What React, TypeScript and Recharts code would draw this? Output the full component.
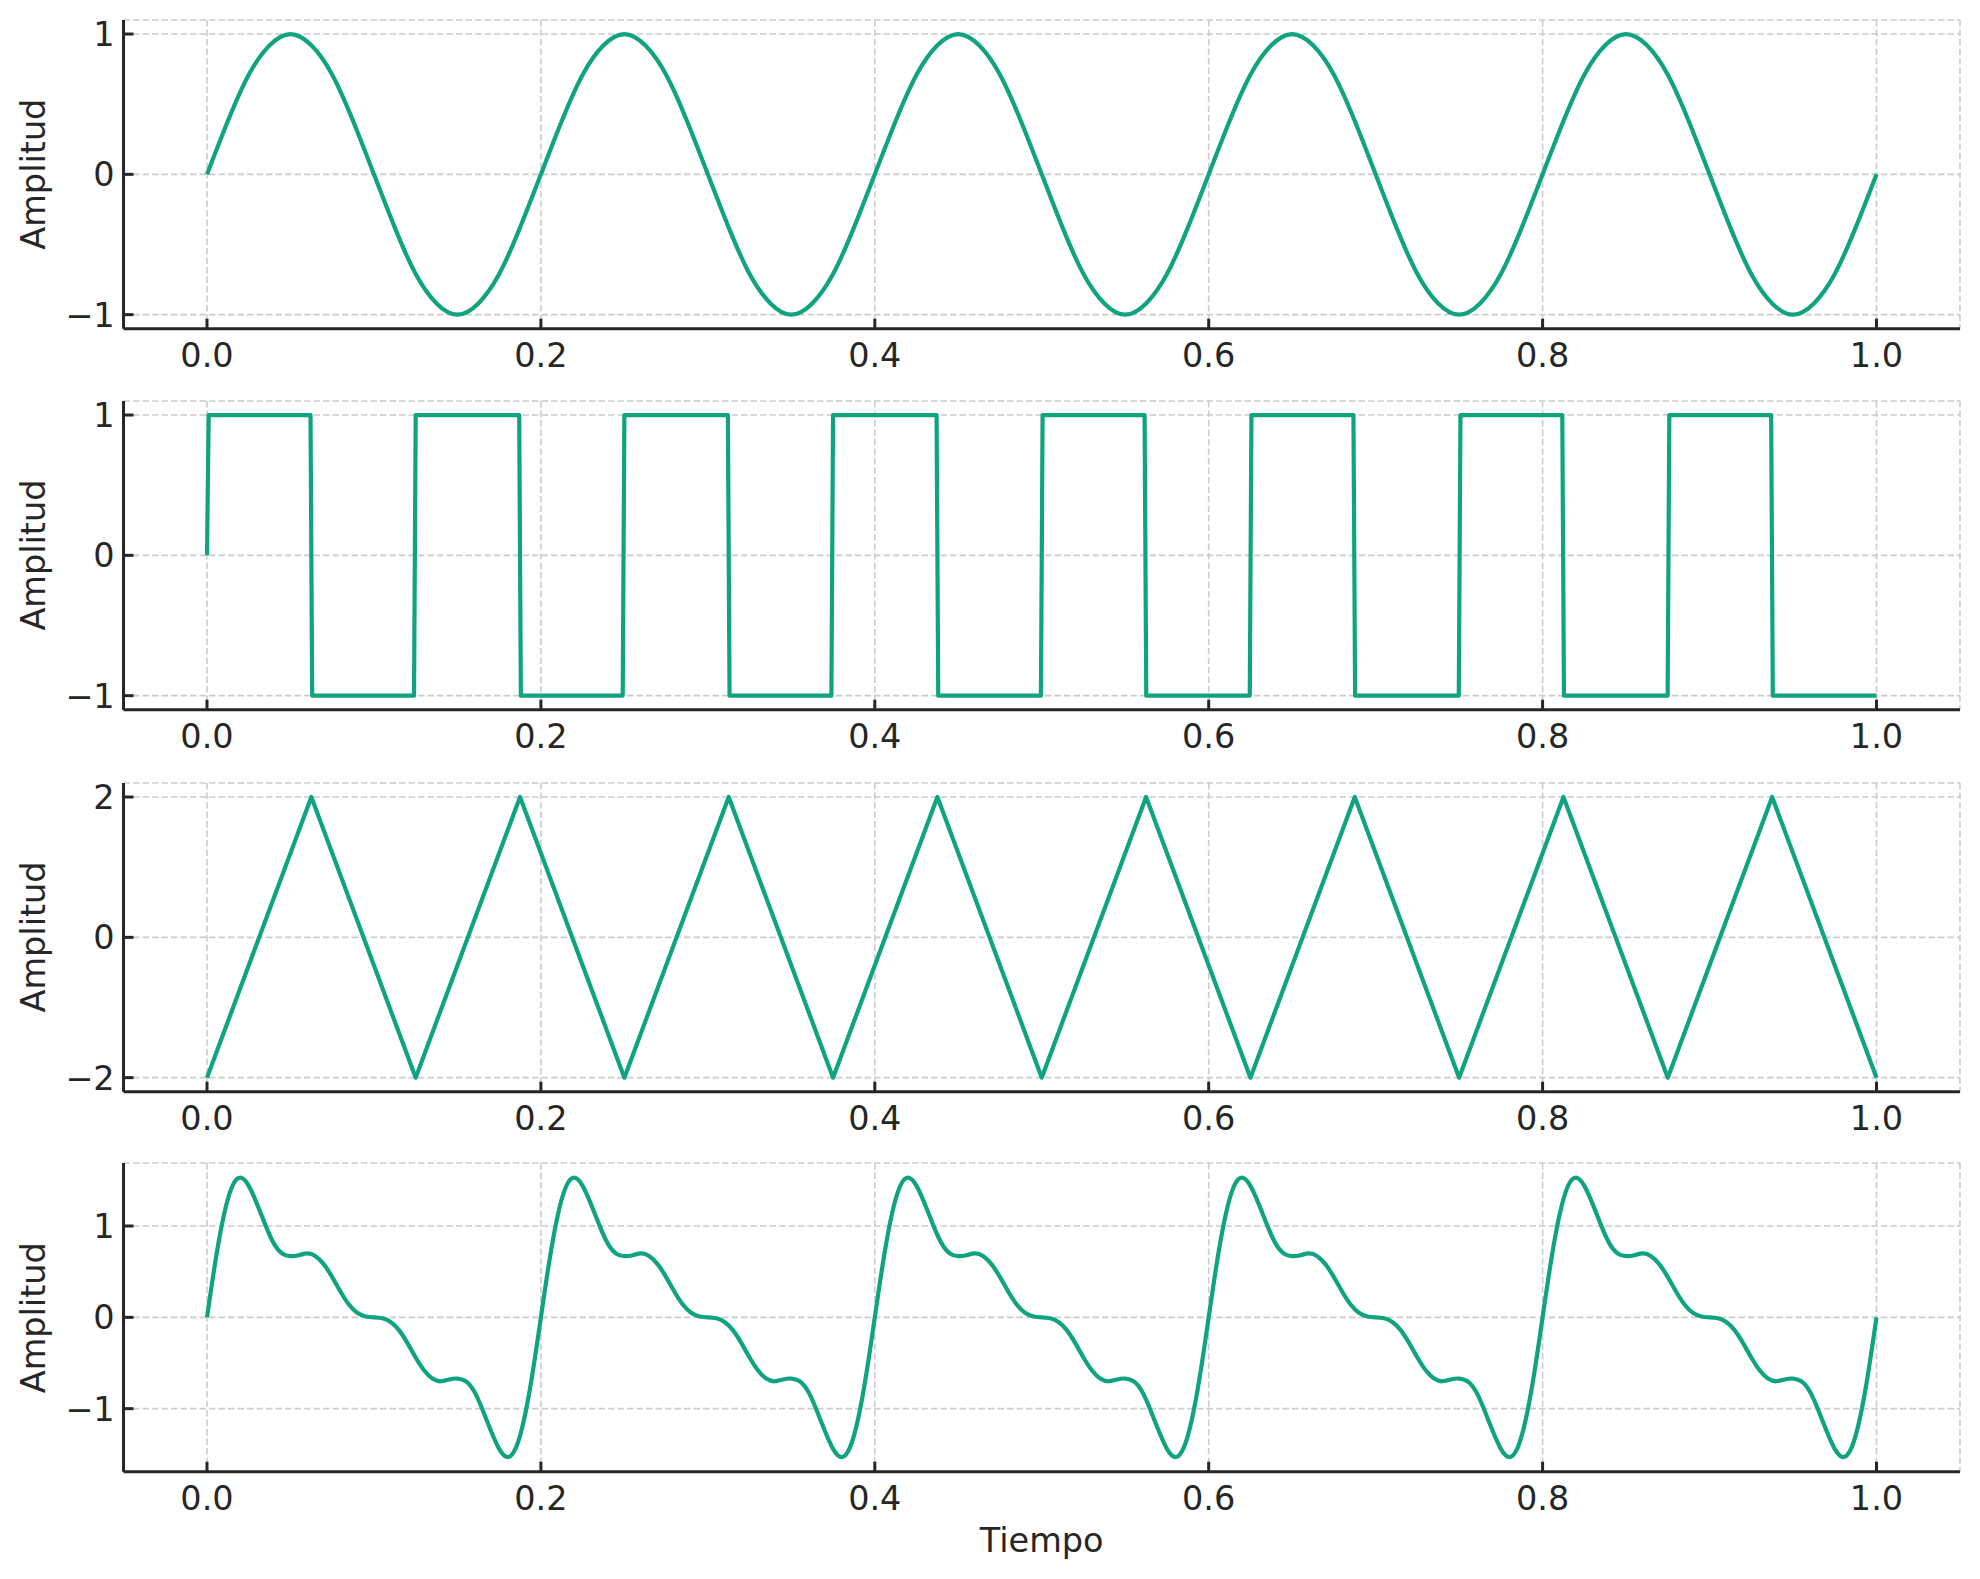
import React from 'react';
import { LineChart, Line, XAxis, YAxis, CartesianGrid } from 'recharts';

// eje de tiempo compartido
const timeTicks = [0, 0.2, 0.4, 0.6, 0.8, 1.0];

// señal senoidal (muestreo cada 0.0125 s)
const SINE_STEP = 0.0125;
const sineAmp = [
  0, 0.38, 0.71, 0.92, 1, 0.92, 0.71, 0.38, 0, -0.38, -0.71, -0.92, -1, -0.92, -0.71, -0.38,
  0, 0.38, 0.71, 0.92, 1, 0.92, 0.71, 0.38, 0, -0.38, -0.71, -0.92, -1, -0.92, -0.71, -0.38,
  0, 0.38, 0.71, 0.92, 1, 0.92, 0.71, 0.38, 0, -0.38, -0.71, -0.92, -1, -0.92, -0.71, -0.38,
  0, 0.38, 0.71, 0.92, 1, 0.92, 0.71, 0.38, 0, -0.38, -0.71, -0.92, -1, -0.92, -0.71, -0.38,
  0, 0.38, 0.71, 0.92, 1, 0.92, 0.71, 0.38, 0, -0.38, -0.71, -0.92, -1, -0.92, -0.71, -0.38,
  0,
];

// onda cuadrada: puntos de quiebre
const squareTime = [
  0, 0.001, 0.062, 0.063, 0.124, 0.125, 0.187, 0.188, 0.249, 0.25, 0.312, 0.313,
  0.374, 0.375, 0.437, 0.438, 0.4995, 0.5005, 0.5616, 0.5626, 0.6246, 0.6256,
  0.6867, 0.6877, 0.7498, 0.7508, 0.8118, 0.8128, 0.8749, 0.8759, 0.9369, 0.9379, 1.0,
];
const squareAmp = [
  0, 1, 1, -1, -1, 1, 1, -1, -1, 1, 1, -1, -1, 1, 1, -1, -1, 1, 1, -1, -1, 1, 1, -1,
  -1, 1, 1, -1, -1, 1, 1, -1, -1,
];

// onda triangular: vértices
const triTime = [
  0, 0.0625, 0.125, 0.1875, 0.25, 0.3125, 0.375, 0.4375, 0.5, 0.5625, 0.625, 0.6875,
  0.75, 0.8125, 0.875, 0.9375, 1.0,
];
const triAmp = [-2, 2, -2, 2, -2, 2, -2, 2, -2, 2, -2, 2, -2, 2, -2, 2, -2];

// diente de sierra (4 armónicos), muestreo cada 0.005 s
const SAW_STEP = 0.005;
const sawAmp = [
  0, 0.61, 1.11, 1.43, 1.53, 1.44, 1.24, 1.01, 0.81, 0.7, 0.67, 0.68, 0.7, 0.67, 0.58, 0.44, 0.28, 0.14, 0.05, 0.01,
  0, -0.01, -0.05, -0.14, -0.28, -0.44, -0.58, -0.67, -0.7, -0.68, -0.67, -0.7, -0.81, -1.01, -1.24, -1.44, -1.53, -1.43, -1.11, -0.61,
  0, 0.61, 1.11, 1.43, 1.53, 1.44, 1.24, 1.01, 0.81, 0.7, 0.67, 0.68, 0.7, 0.67, 0.58, 0.44, 0.28, 0.14, 0.05, 0.01,
  0, -0.01, -0.05, -0.14, -0.28, -0.44, -0.58, -0.67, -0.7, -0.68, -0.67, -0.7, -0.81, -1.01, -1.24, -1.44, -1.53, -1.43, -1.11, -0.61,
  0, 0.61, 1.11, 1.43, 1.53, 1.44, 1.24, 1.01, 0.81, 0.7, 0.67, 0.68, 0.7, 0.67, 0.58, 0.44, 0.28, 0.14, 0.05, 0.01,
  0, -0.01, -0.05, -0.14, -0.28, -0.44, -0.58, -0.67, -0.7, -0.68, -0.67, -0.7, -0.81, -1.01, -1.24, -1.44, -1.53, -1.43, -1.11, -0.61,
  0, 0.61, 1.11, 1.43, 1.53, 1.44, 1.24, 1.01, 0.81, 0.7, 0.67, 0.68, 0.7, 0.67, 0.58, 0.44, 0.28, 0.14, 0.05, 0.01,
  0, -0.01, -0.05, -0.14, -0.28, -0.44, -0.58, -0.67, -0.7, -0.68, -0.67, -0.7, -0.81, -1.01, -1.24, -1.44, -1.53, -1.43, -1.11, -0.61,
  0, 0.61, 1.11, 1.43, 1.53, 1.44, 1.24, 1.01, 0.81, 0.7, 0.67, 0.68, 0.7, 0.67, 0.58, 0.44, 0.28, 0.14, 0.05, 0.01,
  0, -0.01, -0.05, -0.14, -0.28, -0.44, -0.58, -0.67, -0.7, -0.68, -0.67, -0.7, -0.81, -1.01, -1.24, -1.44, -1.53, -1.43, -1.11, -0.61,
  0,
];

const COLOR = '#10a37f';
const INK = '#262626';
const FONT = '"DejaVu Sans", sans-serif';
const FS = 33.5;

const W = 1980;
const PLOT_H = 308.7;
const M = { top: 10, right: 20, bottom: 0, left: 23.5 };
const X_AXIS_H = 60;

const fmtY = (v: number) => (v < 0 ? `\u2212${Math.abs(v)}` : `${v}`);
const fmtX = (v: number) => v.toFixed(1);

const rowsFromGrid = (step: number, ys: number[]) => ys.map((y, i) => ({ t: i * step, y }));
const rowsFromPairs = (ts: number[], ys: number[]) => ys.map((y, i) => ({ t: ts[i], y }));

const panels = [
  { top: 19.8, data: rowsFromGrid(SINE_STEP, sineAmp), domain: [-1.1, 1.1], ticks: [-1, 0, 1], curve: 'natural' },
  { top: 400.7, data: rowsFromPairs(squareTime, squareAmp), domain: [-1.1, 1.1], ticks: [-1, 0, 1], curve: 'linear' },
  { top: 782.6, data: rowsFromPairs(triTime, triAmp), domain: [-2.2, 2.2], ticks: [-2, 0, 2], curve: 'linear' },
  { top: 1163.4, data: rowsFromGrid(SAW_STEP, sawAmp), domain: [-1.69, 1.69], ticks: [-1, 0, 1], curve: 'natural' },
];

function Panel({ p }: { p: any }) {
  const tickStyle = { fill: INK, fontSize: FS, fontFamily: FONT };
  const lineStyle = { stroke: INK, strokeWidth: 3 };
  return (
    <div style={{ position: 'absolute', left: 0, top: p.top - M.top }}>
      <LineChart width={W} height={M.top + PLOT_H + X_AXIS_H} data={p.data} margin={M}>
        <CartesianGrid stroke="#cccccc" strokeWidth={1.6} strokeDasharray="6.5 3" />
        <XAxis
          dataKey="t"
          type="number"
          domain={[-0.05, 1.05]}
          ticks={timeTicks}
          tickFormatter={fmtX}
          interval={0}
          allowDataOverflow
          height={X_AXIS_H}
          tick={tickStyle}
          axisLine={lineStyle}
          tickLine={lineStyle}
          tickSize={-10}
          tickMargin={25}
        />
        <YAxis
          type="number"
          domain={p.domain}
          ticks={p.ticks}
          tickFormatter={fmtY}
          interval={0}
          allowDataOverflow
          width={100}
          tick={tickStyle}
          axisLine={lineStyle}
          tickLine={lineStyle}
          tickSize={-10}
          tickMargin={19}
        />
        <Line
          dataKey="y"
          type={p.curve}
          stroke={COLOR}
          strokeWidth={4.2}
          strokeLinejoin="round"
          dot={false}
          activeDot={false}
          isAnimationActive={false}
        />
      </LineChart>
    </div>
  );
}

export default function App() {
  return (
    <div style={{ position: 'absolute', left: 0, top: 0, width: W, height: 1579, background: '#ffffff' }}>
      {panels.map((p, i) => (
        <Panel key={i} p={p} />
      ))}
      <svg
        width={W}
        height={1579}
        style={{ position: 'absolute', left: 0, top: 0, pointerEvents: 'none' }}
      >
        {panels.map((p, i) => {
          const cy = p.top + PLOT_H / 2;
          return (
            <text
              key={i}
              x={45}
              y={cy}
              transform={`rotate(-90, 45, ${cy})`}
              textAnchor="middle"
              fill={INK}
              fontSize={FS}
              fontFamily={FONT}
            >
              Amplitud
            </text>
          );
        })}
        <text x={1041.7} y={1552} textAnchor="middle" fill={INK} fontSize={FS} fontFamily={FONT}>
          Tiempo
        </text>
      </svg>
    </div>
  );
}
